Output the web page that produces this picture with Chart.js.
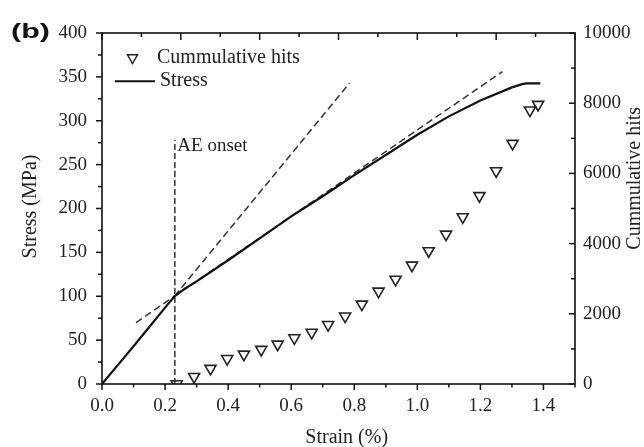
<!DOCTYPE html>
<html>
<head>
<meta charset="utf-8">
<script src="https://cdn.jsdelivr.net/npm/chart.js"></script>
<style>
  body { margin: 0; background: #fff; }
  canvas { display: block; }
</style>
</head>
<body>
<canvas id="chart" width="644" height="447"></canvas>
<script>
// stress-strain curve
const strainStress = [0, 0.05, 0.1, 0.15, 0.2, 0.23, 0.26, 0.3, 0.4, 0.5, 0.6, 0.7, 0.8, 0.9, 1.0, 1.1, 1.2, 1.3, 1.33, 1.345, 1.39];
const stress = [0, 21.5, 43, 65, 87, 100, 108, 117, 141, 166, 191, 214, 238, 261, 284, 305, 323, 338, 341.5, 342.5, 342.5];

// cumulative AE hits
const strainHits = [0.237, 0.292, 0.344, 0.397, 0.450, 0.505, 0.557, 0.610, 0.665, 0.717, 0.771, 0.824,
  0.877, 0.931, 0.983, 1.036, 1.091, 1.144, 1.197, 1.250, 1.302, 1.357, 1.383];
const hits = [0, 210, 440, 720, 845, 980, 1130, 1310, 1470, 1690, 1930, 2270,
  2640, 2980, 3380, 3790, 4265, 4760, 5360, 6070, 6850, 7800, 7960];

// dashed tangent lines and AE onset marker
const fitEarlyX = [0.23, 0.785];
const fitEarlyY = [100, 343];
const fitLateX = [0.108, 1.27];
const fitLateY = [70, 356];
const aeOnsetX = [0.231, 0.231];
const aeOnsetY = [0, 278];

// tick labels
const xTicks = [0, 0.2, 0.4, 0.6, 0.8, 1.0, 1.2, 1.4];
const stressTicks = [0, 50, 100, 150, 200, 250, 300, 350, 400];
const hitsTicks = [0, 2000, 4000, 6000, 8000, 10000];

const pts = (xs, ys) => xs.map((x, i) => ({ x: x, y: ys[i] }));
const serif = 'Liberation Serif, Times New Roman, serif';
const ink = '#222';

// frame, minor ticks, legend, titles and labels
const decor = {
  id: 'decor',
  afterDraw(chart) {
    const ctx = chart.ctx;
    const a = chart.chartArea;
    const sx = chart.scales.x, sy = chart.scales.y, sy2 = chart.scales.y2;
    ctx.save();

    ctx.strokeStyle = '#111';
    ctx.lineWidth = 1.6;
    ctx.strokeRect(a.left, a.top, a.right - a.left, a.bottom - a.top);

    const mark = (x1, y1, x2, y2) => {
      ctx.beginPath(); ctx.moveTo(x1, y1); ctx.lineTo(x2, y2); ctx.stroke();
    };
    ctx.lineWidth = 1.5;
    for (let i = 0; i <= 15; i++) {
      const px = sx.getPixelForValue(i * 0.1);
      mark(px, a.bottom, px, a.bottom + (i % 2 ? 3.5 : 6));
    }
    for (let i = 0; i <= 12; i++) {
      const px = sx.getPixelForValue(i * 0.125);
      mark(px, a.top, px, a.top + (i % 2 ? 4 : 7));
    }
    for (let i = 0; i <= 16; i++) {
      const py = sy.getPixelForValue(i * 25);
      mark(a.left, py, a.left - (i % 2 ? 4 : 6), py);
    }
    for (let i = 0; i <= 10; i++) {
      const py = sy2.getPixelForValue(i * 1000);
      mark(a.right, py, a.right - (i % 2 ? 4 : 6), py);
    }

    // legend
    ctx.fillStyle = ink;
    ctx.strokeStyle = '#222';
    ctx.lineWidth = 1.5;
    const cx = 132.5, cy = 57.7, r = 5.8;
    ctx.beginPath();
    ctx.moveTo(cx, cy + r);
    ctx.lineTo(cx + r * 0.866, cy - r / 2);
    ctx.lineTo(cx - r * 0.866, cy - r / 2);
    ctx.closePath();
    ctx.stroke();
    ctx.font = '20px ' + serif;
    ctx.textAlign = 'left';
    ctx.textBaseline = 'alphabetic';
    ctx.fillText('Cummulative hits', 157, 62.7);
    ctx.strokeStyle = '#111';
    ctx.lineWidth = 2;
    mark(115, 81.3, 155, 81.3);
    ctx.fillText('Stress', 160, 86.3);

    // AE onset label
    ctx.font = '19px ' + serif;
    ctx.fillText('AE onset', sx.getPixelForValue(aeOnsetX[0]) + 2.5, sy.getPixelForValue(265));

    // axis titles
    ctx.font = '20px ' + serif;
    ctx.textAlign = 'center';
    ctx.fillText('Strain (%)', 346.7, 443.3);
    ctx.save();
    ctx.translate(36, 206.5);
    ctx.rotate(-Math.PI / 2);
    ctx.fillText('Stress (MPa)', 0, 0);
    ctx.restore();
    ctx.save();
    ctx.translate(640, 178.3);
    ctx.rotate(-Math.PI / 2);
    ctx.fillText('Cummulative hits', 0, 0);
    ctx.restore();

    // panel label
    ctx.save();
    ctx.translate(11, 38.3);
    ctx.scale(1.45, 1);
    ctx.font = 'bold 21px Liberation Sans, Arial, sans-serif';
    ctx.textAlign = 'left';
    ctx.fillStyle = '#111';
    ctx.fillText('(b)', 0, 0);
    ctx.restore();

    ctx.restore();
  }
};

const tickFont = { family: serif, size: 19 };

new Chart(document.getElementById('chart'), {
  type: 'scatter',
  data: {
    datasets: [
      {
        label: 'Cummulative hits',
        data: pts(strainHits, hits),
        yAxisID: 'y2',
        pointStyle: 'triangle',
        rotation: 180,
        pointRadius: 6.4,
        borderColor: '#222',
        borderWidth: 1.6,
        backgroundColor: 'rgba(0,0,0,0)',
        showLine: false,
        clip: 0,
        order: 0
      },
      {
        label: 'Stress',
        data: pts(strainStress, stress),
        yAxisID: 'y',
        showLine: true,
        borderColor: '#111',
        borderWidth: 2.2,
        pointRadius: 0,
        tension: 0,
        order: 1
      },
      {
        label: 'fit early',
        data: pts(fitEarlyX, fitEarlyY),
        yAxisID: 'y',
        showLine: true,
        borderColor: '#333',
        borderWidth: 1.5,
        borderDash: [7, 4],
        pointRadius: 0,
        order: 2
      },
      {
        label: 'fit late',
        data: pts(fitLateX, fitLateY),
        yAxisID: 'y',
        showLine: true,
        borderColor: '#333',
        borderWidth: 1.5,
        borderDash: [7, 4],
        pointRadius: 0,
        order: 2
      },
      {
        label: 'AE onset',
        data: pts(aeOnsetX, aeOnsetY),
        yAxisID: 'y',
        showLine: true,
        borderColor: '#333',
        borderWidth: 1.5,
        borderDash: [6, 3],
        pointRadius: 0,
        order: 2
      }
    ]
  },
  options: {
    responsive: false,
    animation: false,
    layout: { padding: { top: 33, left: 0, right: 0, bottom: 0 } },
    plugins: {
      legend: { display: false },
      tooltip: { enabled: false }
    },
    scales: {
      x: {
        type: 'linear',
        position: 'bottom',
        min: 0,
        max: 1.5,
        afterBuildTicks: s => { s.ticks = xTicks.map(v => ({ value: v })); },
        afterFit: s => { s.height = 63; },
        grid: { display: false, drawTicks: false, tickLength: 0 },
        border: { display: false },
        ticks: {
          padding: 11,
          color: ink,
          font: tickFont,
          maxRotation: 0,
          autoSkip: false,
          callback: v => Number(v).toFixed(1)
        }
      },
      y: {
        type: 'linear',
        position: 'left',
        min: 0,
        max: 400,
        afterBuildTicks: s => { s.ticks = stressTicks.map(v => ({ value: v })); },
        afterFit: s => { s.width = 102; },
        grid: { display: false, drawTicks: false, tickLength: 0 },
        border: { display: false },
        ticks: { padding: 15, color: ink, font: tickFont, autoSkip: false, callback: v => String(v) }
      },
      y2: {
        type: 'linear',
        position: 'right',
        min: 0,
        max: 10000,
        afterBuildTicks: s => { s.ticks = hitsTicks.map(v => ({ value: v })); },
        afterFit: s => { s.width = 69; },
        grid: { display: false, drawTicks: false, tickLength: 0 },
        border: { display: false },
        ticks: { padding: 8, color: ink, font: tickFont, autoSkip: false, callback: v => String(v) }
      }
    }
  },
  plugins: [decor]
});
</script>
</body>
</html>
